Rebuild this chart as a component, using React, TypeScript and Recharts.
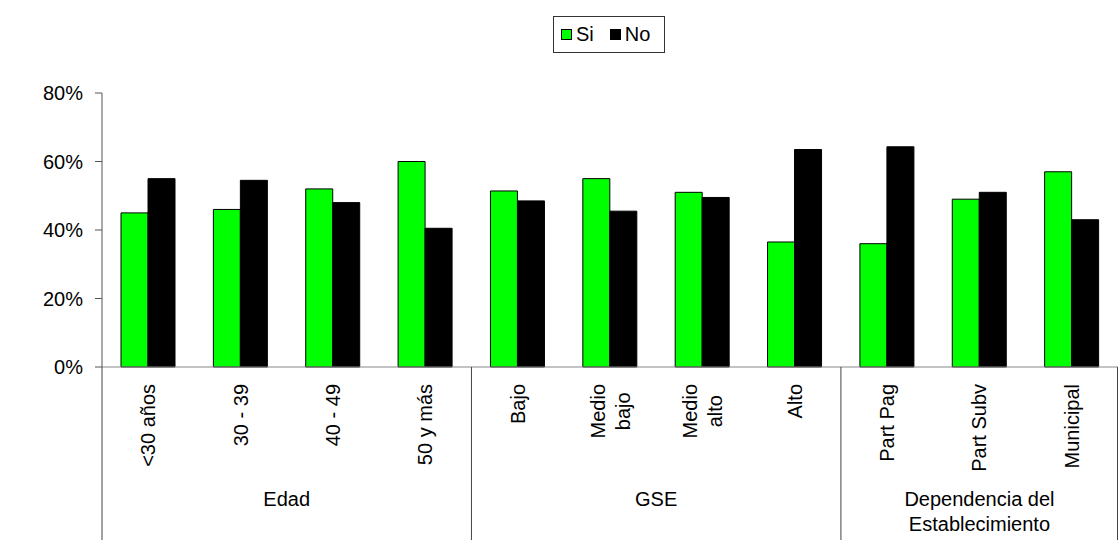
import { BarChart, Bar, XAxis, YAxis, Legend } from "recharts";

const categories = [
  "<30 años",
  "30 - 39",
  "40 - 49",
  "50 y más",
  "Bajo",
  "Medio\nbajo",
  "Medio\nalto",
  "Alto",
  "Part Pag",
  "Part Subv",
  "Municipal",
];
const siValues = [45, 46, 52, 60, 51.4, 55, 51, 36.5, 36, 49, 57];
const noValues = [55, 54.5, 48, 40.5, 48.5, 45.5, 49.5, 63.5, 64.3, 51, 43];
const groupNames = ["Edad", "GSE", "Dependencia del\nEstablecimiento"];
const groupSizes = [4, 4, 3];
const yTicks = [0, 20, 40, 60, 80];

const data = categories.map((c, i) => ({ name: c, si: siValues[i], no: noValues[i] }));

const WIDTH = 1118;
const HEIGHT = 540;
const Y_AXIS_W = 102;
const X_AXIS_H = 173;
const FONT = '"Liberation Sans", Arial, sans-serif';
const bandW = (WIDTH - Y_AXIS_W) / categories.length;

let ctx: CanvasRenderingContext2D | null = null;
function textWidth(s: string) {
  if (!ctx) ctx = document.createElement("canvas").getContext("2d");
  if (!ctx) return s.length * 10;
  ctx.font = `20px ${FONT}`;
  return ctx.measureText(s).width;
}

// group index starting at a category, or -1
function groupStartAt(index: number) {
  let start = 0;
  for (let g = 0; g < groupSizes.length; g++) {
    if (start === index) return g;
    start += groupSizes[g];
  }
  return -1;
}

function CategoryTick(props: any) {
  const { x, y, payload, index } = props;
  const lines = String(payload.value).split("\n");
  const maxW = Math.max(...lines.map(textWidth));
  const top = y + 17;
  const lh = 25;
  const first = 7 - ((lines.length - 1) * lh) / 2;
  const g = groupStartAt(index);
  const left = x - bandW / 2;
  return (
    <g>
      <g transform={`translate(${x},${top}) rotate(-90)`}>
        {lines.map((l, i) => (
          <text
            key={i}
            x={-maxW / 2}
            y={first + i * lh}
            textAnchor="middle"
            fontSize={20}
            fill="#000"
          >
            {l}
          </text>
        ))}
      </g>
      {g >= 0 && (
        <g>
          <line x1={left} y1={y} x2={left} y2={y + X_AXIS_H} stroke="#444" strokeWidth={1} />
          {groupNames[g].split("\n").map((l, i) => (
            <text
              key={i}
              x={left + (groupSizes[g] * bandW) / 2}
              y={y + 139 + i * 25}
              textAnchor="middle"
              fontSize={20}
              fill="#000"
            >
              {l}
            </text>
          ))}
        </g>
      )}
      {index === categories.length - 1 && (
        <line
          x1={x + bandW / 2 - 0.5}
          y1={y}
          x2={x + bandW / 2 - 0.5}
          y2={y + X_AXIS_H}
          stroke="#444"
          strokeWidth={1}
        />
      )}
    </g>
  );
}

function LegendBox() {
  const sq = (c: string) => (
    <span
      style={{
        display: "inline-block",
        width: 11,
        height: 11,
        background: c,
        border: "1px solid #000",
        boxSizing: "border-box",
        marginRight: 4,
      }}
    />
  );
  return (
    <div
      style={{
        border: "1px solid #333",
        height: 37,
        width: 112,
        boxSizing: "border-box",
        display: "flex",
        alignItems: "center",
        paddingLeft: 7,
        fontSize: 20,
        color: "#000",
        background: "#fff",
      }}
    >
      {sq("#00ff00")}
      <span style={{ marginRight: 16 }}>Si</span>
      {sq("#000")}
      <span>No</span>
    </div>
  );
}

export default function App() {
  return (
    <div style={{ position: "absolute", left: 0, top: 0, fontFamily: FONT, background: "#fff" }}>
      <BarChart
        width={WIDTH}
        height={HEIGHT}
        data={data}
        margin={{ top: 93, right: 0, left: 0, bottom: 0 }}
        barGap={0}
        barSize={27}
      >
        <XAxis
          dataKey="name"
          height={X_AXIS_H}
          interval={0}
          tickLine={false}
          tickSize={0}
          tickMargin={0}
          axisLine={{ stroke: "#888" }}
          tick={<CategoryTick />}
        />
        <YAxis
          width={Y_AXIS_W}
          domain={[0, 80]}
          ticks={yTicks}
          tickFormatter={(v) => `${v}%`}
          tickSize={7}
          tickMargin={12}
          axisLine={{ stroke: "#555" }}
          tickLine={{ stroke: "#555" }}
          tick={{ fontSize: 20, fill: "#000" }}
        />
        <Legend
          layout="horizontal"
          verticalAlign="middle"
          align="center"
          wrapperStyle={{ top: 16, left: 553, width: 112, height: 37 }}
          content={() => <LegendBox />}
        />
        <Bar dataKey="si" name="Si" fill="#00ff00" stroke="#000" strokeWidth={1} isAnimationActive={false} />
        <Bar dataKey="no" name="No" fill="#000" stroke="#000" strokeWidth={1} isAnimationActive={false} />
      </BarChart>
    </div>
  );
}
